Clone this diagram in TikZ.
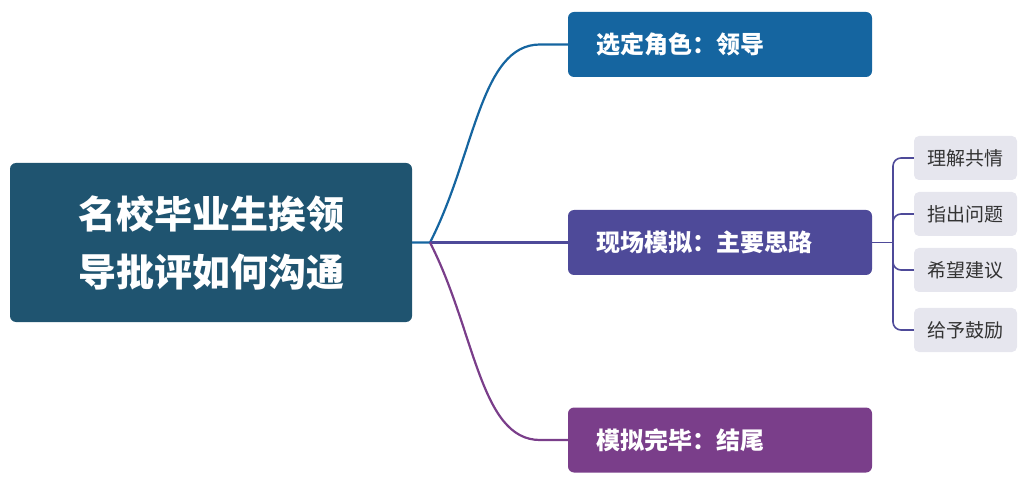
\documentclass[tikz,border=0pt]{standalone}
\usepackage{fontspec}
\newfontfamily\cjk{Noto Sans CJK SC}
\definecolor{rootc}{HTML}{1F5470}
\definecolor{topc}{HTML}{1565A0}
\definecolor{midc}{HTML}{4E4A99}
\definecolor{botc}{HTML}{7A3E8A}
\definecolor{leafc}{HTML}{E6E6EE}
\begin{document}
\begin{tikzpicture}[x=1pt,y=1pt,
  box/.style={rounded corners=6pt,inner sep=0pt,text=white,font=\cjk\bfseries},
  br/.style={box,minimum width=304pt,minimum height=65pt,font=\cjk\bfseries\fontsize{24}{28}\selectfont,text width=248pt,align=left},
  leaf/.style={fill=leafc,rounded corners=5pt,minimum width=103pt,minimum height=44pt,font=\cjk\fontsize{19}{22}\selectfont,text=black!80}]
\useasboundingbox (0,0) rectangle (1025,485);
\node[box,fill=rootc,minimum width=402pt,minimum height=159pt,align=center,font=\cjk\bfseries\fontsize{38}{58}\selectfont] (root) at (211,242.5) {名校毕业生挨领\\导批评如何沟通};
\node[br,fill=topc] (top) at (720,440.5) {选定角色：领导};
\node[br,fill=midc] (mid) at (720,242.5) {现场模拟：主要思路};
\node[br,fill=botc] (bot) at (720,45) {模拟完毕：结尾};
\coordinate (s) at (430,242.5);
\draw[topc,line width=2.2pt] (root.east) -- (s) .. controls (475,330) and (480,440.5) .. (540,440.5) -- (top.west);
\draw[midc,line width=2.2pt] (s) -- (mid.west);
\draw[botc,line width=2.2pt] (s) .. controls (475,155) and (480,45) .. (540,45) -- (bot.west);
\node[leaf] (l1) at (965.5,327) {理解共情};
\node[leaf] (l2) at (965.5,271) {指出问题};
\node[leaf] (l3) at (965.5,215) {希望建议};
\node[leaf] (l4) at (965.5,155) {给予鼓励};
\coordinate (b) at (893,242.5);
\draw[midc,line width=1.6pt] (mid.east) -- (b);
\foreach \n in {l1,l2,l3,l4}{
  \draw[midc,line width=1.6pt,rounded corners=8pt] (b) |- (\n.west);
}
\end{tikzpicture}
\end{document}
